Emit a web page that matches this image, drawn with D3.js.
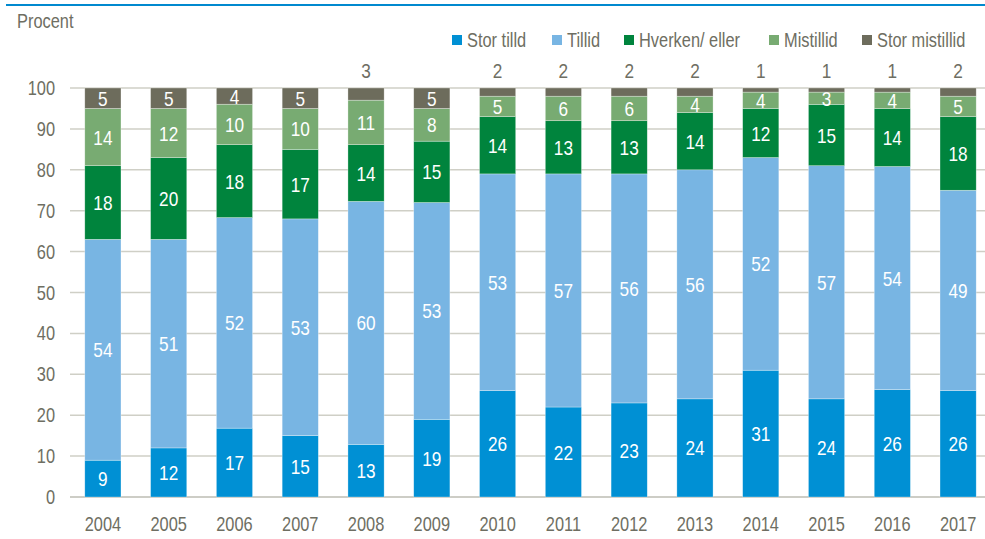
<!DOCTYPE html>
<html>
<head>
<meta charset="utf-8">
<script src="https://cdn.jsdelivr.net/npm/d3@7"></script>
<style>
  body { margin: 0; background: #fff; }
  svg { display: block; font-family: "Liberation Sans", Arial, sans-serif; }
</style>
</head>
<body>
<div id="chart"></div>
<script>
    var width = 985,
        height = 539;

    // data
    var years = ['2004','2005','2006','2007','2008','2009','2010','2011','2012','2013','2014','2015','2016','2017'];
    var series = ['Stor tilld', 'Tillid', 'Hverken/ eller', 'Mistillid', 'Stor mistillid'];
    var storTilld     = [9, 12, 17, 15, 13, 19, 26, 22, 23, 24, 31, 24, 26, 26];
    var tillid        = [54, 51, 52, 53, 60, 53, 53, 57, 56, 56, 52, 57, 54, 49];
    var hverkenEller  = [18, 20, 18, 17, 14, 15, 14, 13, 13, 14, 12, 15, 14, 18];
    var mistillid     = [14, 12, 10, 10, 11, 8, 5, 6, 6, 4, 4, 3, 4, 5];
    var storMistillid = [5, 5, 4, 5, 3, 5, 2, 2, 2, 2, 1, 1, 1, 2];
    var yTicks = [0, 10, 20, 30, 40, 50, 60, 70, 80, 90, 100];

    var colors = ['#0090d4', '#78b5e3', '#00843d', '#78ab72', '#6d6c5c'];
    var textGray = '#6e6e62';
    var narrow = 0.82; // squeeze glyphs, no narrow font installed

    var rows = years.map(function(y, i){
        return {year: y, 'Stor tilld': storTilld[i], 'Tillid': tillid[i], 'Hverken/ eller': hverkenEller[i],
                'Mistillid': mistillid[i], 'Stor mistillid': storMistillid[i]};
    });

    var stacked = d3.stack().keys(series).offset(d3.stackOffsetExpand)(rows);

    var svg = d3.select('#chart').append('svg')
        .attr('width', width)
        .attr('height', height);

    function place(px, py){
        return 'translate(' + px + ',' + py + ') scale(' + narrow + ',1)';
    }

    // top rule
    svg.append('line')
        .attr('x1', 6).attr('x2', width)
        .attr('y1', 5).attr('y2', 5)
        .attr('stroke', '#0089cf').attr('stroke-width', 2);

    var x = d3.scaleBand().domain(years).range([70, 991]).paddingInner(0.45).paddingOuter(0.225);
    var y = d3.scaleLinear().domain([0, 1]).range([497, 88]);

    // gridlines
    svg.append('g').selectAll('line')
        .data(yTicks)
        .enter().append('line')
        .attr('x1', 70).attr('x2', width)
        .attr('y1', function(d){ return y(d / 100); })
        .attr('y2', function(d){ return y(d / 100); })
        .attr('stroke', function(d){ return d === 0 ? '#bdbdb3' : '#cfcfc6'; })
        .attr('stroke-width', 1.5);

    // y labels
    svg.append('g').selectAll('text')
        .data(yTicks)
        .enter().append('text')
        .attr('transform', function(d){ return place(55, y(d / 100)); })
        .attr('dy', '0.35em')
        .attr('text-anchor', 'end')
        .attr('fill', textGray)
        .style('font-size', '20px')
        .text(function(d){ return d; });

    // x labels
    svg.append('g').selectAll('text')
        .data(years)
        .enter().append('text')
        .attr('transform', function(d){ return place(x(d) + x.bandwidth() / 2, 531); })
        .attr('text-anchor', 'middle')
        .attr('fill', textGray)
        .style('font-size', '20px')
        .text(function(d){ return d; });

    svg.append('text')
        .attr('transform', place(17, 28))
        .attr('fill', textGray)
        .style('font-size', '20px')
        .text('Procent');

    // bars
    var layer = svg.append('g').selectAll('g')
        .data(stacked)
        .enter().append('g')
        .attr('fill', function(d, i){ return colors[i]; });

    layer.selectAll('rect')
        .data(function(d){ return d; })
        .enter().append('rect')
        .attr('x', function(d){ return x(d.data.year); })
        .attr('width', x.bandwidth())
        .attr('y', function(d){ return y(d[1]); })
        .attr('height', function(d){ return y(d[0]) - y(d[1]); })
        .attr('stroke', '#ffffff')
        .attr('stroke-opacity', 0.5)
        .attr('stroke-width', 0.6);

    // value labels, small top segments go above the bar
    function outside(d){ return d.key === 'Stor mistillid' && d.p.data[d.key] <= 3; }

    layer.selectAll('text')
        .data(function(d){ return d.map(function(p){ return {p: p, key: d.key}; }); })
        .enter().append('text')
        .attr('transform', function(d){
            var cx = x(d.p.data.year) + x.bandwidth() / 2;
            var cy = outside(d) ? y(1) - 10 : (y(d.p[0]) + y(d.p[1])) / 2;
            return place(cx, cy);
        })
        .attr('dy', function(d){ return outside(d) ? '0' : '0.36em'; })
        .attr('text-anchor', 'middle')
        .attr('fill', function(d){ return outside(d) ? textGray : '#ffffff'; })
        .style('font-size', '21px')
        .text(function(d){ return d.p.data[d.key]; });

    // legend
    var legendX = [452, 552, 624, 769, 862];
    var legend = svg.append('g').selectAll('g')
        .data(series)
        .enter().append('g')
        .attr('transform', function(d, i){ return 'translate(' + legendX[i] + ',35)'; });

    legend.append('rect')
        .attr('width', 10).attr('height', 10)
        .attr('fill', function(d, i){ return colors[i]; });

    legend.append('text')
        .attr('transform', place(15, 5))
        .attr('dy', '0.36em')
        .attr('fill', textGray)
        .style('font-size', '20px')
        .text(function(d){ return d; });
</script>
</body>
</html>
